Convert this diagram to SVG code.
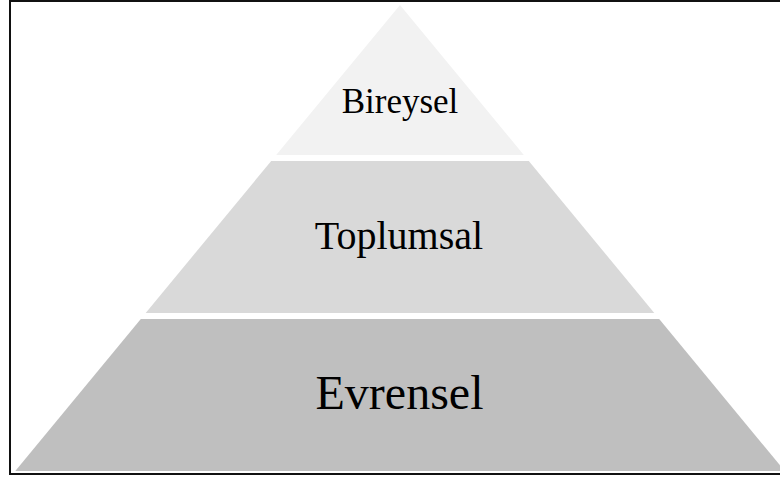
<svg xmlns="http://www.w3.org/2000/svg" width="780" height="478" viewBox="0 0 780 478">
  <style>
    .lbl { font-family: "Liberation Serif", "Times New Roman", serif; fill: #000; text-anchor: middle; }
    .frame { fill: none; stroke: #111; stroke-width: 2; }
  </style>
  <rect width="780" height="478" fill="#fff"/>
  <!-- outer frame (right edge runs past the canvas) -->
  <rect class="frame" x="10" y="1" width="790" height="473"/>

  <!-- three-level pyramid -->
  <g id="tier-bireysel">
    <polygon points="400,5 523.8,155 276.2,155" fill="#F2F2F2"/>
    <text class="lbl" x="400" y="113" font-size="35">Bireysel</text>
  </g>
  <g id="tier-toplumsal">
    <polygon points="271.2,161 528.8,161 654.3,313 145.7,313" fill="#D9D9D9"/>
    <text class="lbl" x="399" y="249" font-size="40">Toplumsal</text>
  </g>
  <g id="tier-evrensel">
    <polygon points="140.8,319 659.2,319 784.7,471 15.3,471" fill="#BFBFBF"/>
    <text class="lbl" x="399.5" y="409" font-size="48">Evrensel</text>
  </g>
  <g id="connectors"/>
</svg>
